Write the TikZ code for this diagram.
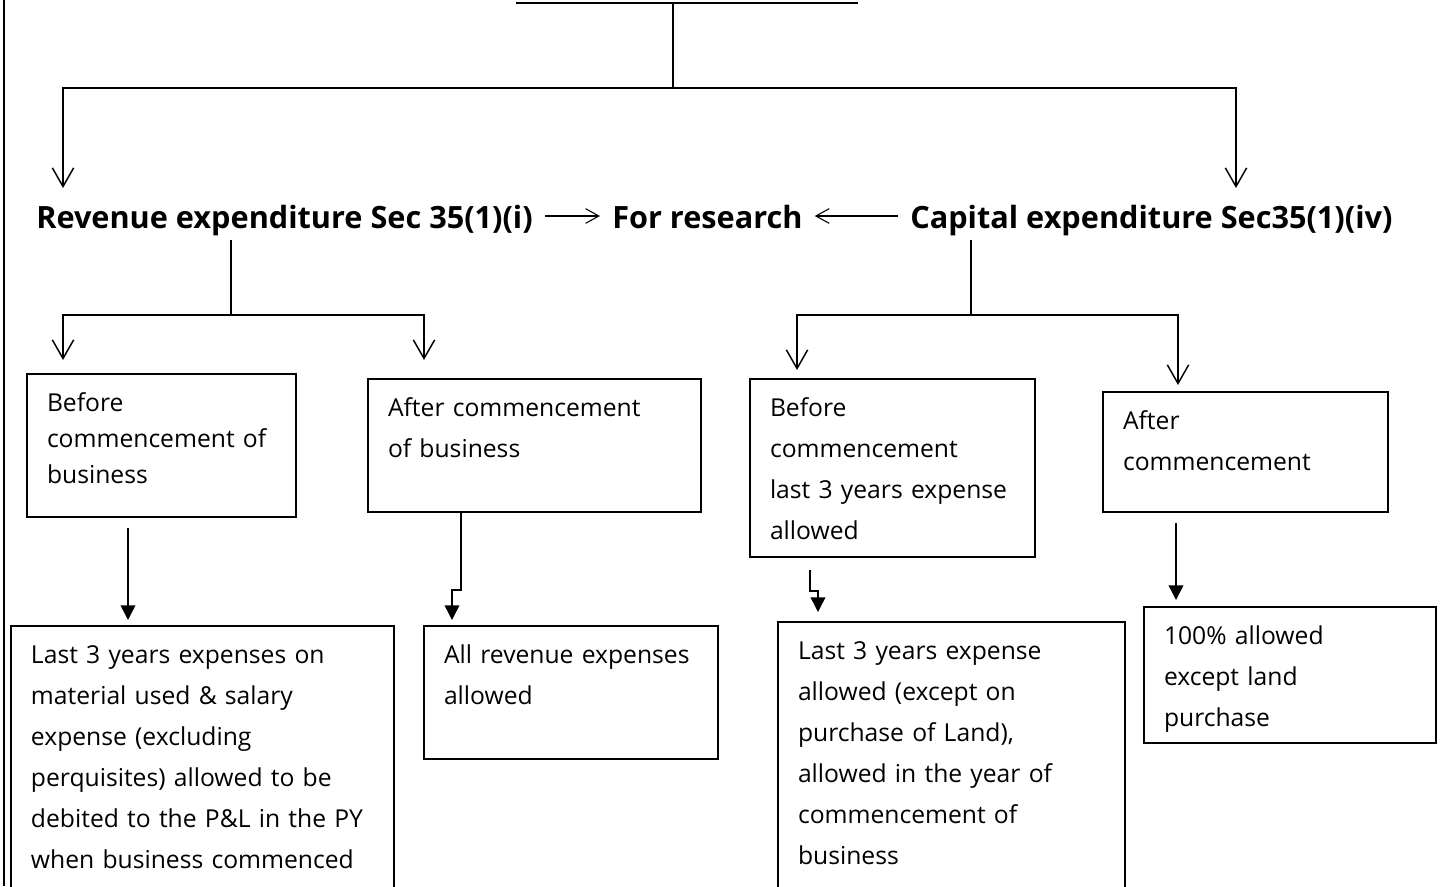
\documentclass[tikz,border=0pt]{standalone}
\usepackage{fontspec}
\setmainfont{Open Sans}
\usepackage{tikz}
\usetikzlibrary{arrows.meta}

\begin{document}
\begin{tikzpicture}[x=0.75pt,y=-0.75pt,>=Latex]
  \tikzset{
    head/.style={font=\fontsize{23pt}{27pt}\bfseries,anchor=base west,
      inner xsep=9pt,inner ysep=9pt,text height=18pt,text depth=0pt},
    box/.style={draw,line width=1.5pt,anchor=north west,align=left,
      font=\fontsize{18.5pt}{30.75pt}\selectfont,
      inner xsep=15pt,inner ysep=0pt,text height=27.75pt},
    link/.style={line width=1.1pt},
    fork/.style={link,-{Straight Barb[length=14pt,width=16pt]}},
    flow/.style={line width=0.8pt,-{Straight Barb[length=10pt,width=11pt]}},
    drop/.style={link,-{Triangle[length=11pt,width=11pt]}}
  }
  \useasboundingbox (0,0) rectangle (1446,886);
  \clip (0,0) rectangle (1446,886);

  % frame edge and cut-off title
  \draw[line width=1.5pt] (4,0) -- (4,886);
  \draw[line width=1.5pt] (516,3) -- (858,3);
  \coordinate (ttl) at (673,4);
  \coordinate (tf) at (673,88);
  \coordinate (a0) at (63,188);
  \coordinate (a5) at (1236,188);
  \draw[link] (ttl) -- (tf);
  \draw[fork] (tf) -| (a0);
  \draw[fork] (tf) -| (a5);

  % heading row
  \node[head] (rev) at (24,228) {Revenue expenditure Sec 35(1)(i)};
  \node[head] (res) at (600,228) {For research};
  \node[head] (cap) at (898,228) {Capital expenditure Sec35(1)(iv)};
  \draw[flow] (rev) -- (res);
  \draw[flow] (cap) -- (res);

  % second level
  \node[box,text width=171.75pt,text depth=79.5pt,
    font=\fontsize{18.5pt}{27pt}\selectfont] (b1) at (26,373)
    {Before\\commencement of\\business};
  \node[box,text width=219.75pt,text depth=72pt] (b2) at (367,378)
    {After commencement\\of business};
  \node[box,text width=183.75pt,text depth=105.75pt] (b3) at (749,378)
    {Before\\commencement\\last 3 years expense\\allowed};
  \node[box,text width=183.75pt,text depth=62.25pt] (b4) at (1102,391)
    {After\\commencement};

  \coordinate (rf) at (231,315);
  \coordinate (a1) at (63,360);
  \coordinate (a2) at (424,360);
  \draw[link] (rev.south -| rf) -- (rf);
  \draw[fork] (rf) -| (a1);
  \draw[fork] (rf) -| (a2);

  \coordinate (cf) at (971,315);
  \coordinate (a3) at (797,370);
  \coordinate (a4) at (1178,385);
  \draw[link] (cap.south -| cf) -- (cf);
  \draw[fork] (cf) -| (a3);
  \draw[fork] (cf) -| (a4);

  % third level
  \node[box,text width=257.25pt,text depth=197.25pt] (c1) at (10,625)
    {Last 3 years expenses on\\material used \& salary\\expense (excluding\\perquisites) allowed to be\\debited to the P\&L in the PY\\when business commenced};
  \node[box,text width=190.5pt,text depth=72pt] (c2) at (423,625)
    {All revenue expenses\\allowed};
  \node[box,text width=230.25pt,text depth=197.25pt] (c3) at (777,621)
    {Last 3 years expense\\allowed (except on\\purchase of Land),\\allowed in the year of\\commencement of\\business};
  \node[box,text width=189pt,text depth=74.25pt] (c4) at (1143,606)
    {100\% allowed\\except land\\purchase};

  \coordinate (d1) at (128,528);
  \draw[drop,shorten >=3.75pt] (d1) -- (d1 |- c1.north);
  \coordinate (d2) at (461,590);
  \coordinate (d2b) at (452,590);
  \draw[drop,shorten >=3.75pt] (b2.south -| d2) -- (d2) -- (d2b) -- (d2b |- c2.north);
  \coordinate (d3) at (810,570);
  \coordinate (d3a) at (810,591);
  \coordinate (d3b) at (818,591);
  \draw[drop,shorten >=6.75pt] (d3) -- (d3a) -- (d3b) -- (d3b |- c3.north);
  \coordinate (d4) at (1176,523);
  \draw[drop,shorten >=4.5pt] (d4) -- (d4 |- c4.north);
\end{tikzpicture}
\end{document}
